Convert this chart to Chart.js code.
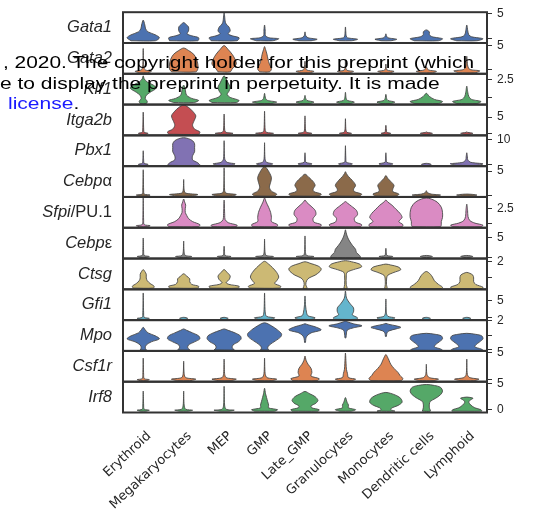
<!DOCTYPE html>
<html lang="en">
<head>
<meta charset="UTF-8">
<title>Stacked violin</title>
<script src="https://cdn.jsdelivr.net/npm/chart.js@4"></script>
<style>
  body { margin: 0; background: #fff; }
  #wrap { position: relative; width: 533px; height: 510px; }
  .note {
    position: absolute;
    font-family: "Liberation Sans", Arial, sans-serif;
    font-size: 21px;
    line-height: 21px;
    white-space: nowrap;
    transform: scaleY(0.76);
    transform-origin: 0 0;
    color: #000;
  }
</style>
</head>
<body>
<div id="wrap">
  <canvas id="chartCanvas" width="533" height="510"></canvas>
  <div class="note" style="left:3px;top:54px;font-size:20.9px">, 2020. The copyright holder for this preprint (which</div>
  <div class="note" style="left:0;top:75px">e to display the preprint in perpetuity. It is made</div>
  <div class="note" style="left:8px;top:95px"><span style="color:#1a1aff">license</span>.</div>
</div>

<script>
const cellTypes = ["Erythroid", "Megakaryocytes", "MEP", "GMP", "Late_GMP", "Granulocytes", "Monocytes", "Dendritic cells", "Lymphoid"];
const genes = ["Gata1", "Gata2", "Klf1", "Itga2b", "Pbx1", "Cebpα", "Sfpi/PU.1", "Cebpε", "Ctsg", "Gfi1", "Mpo", "Csf1r", "Irf8"];
const geneColors = ["#4c72b0", "#dd8452", "#55a868", "#c44e52", "#8172b3", "#8b6a4a", "#da8bc3", "#858585", "#ccb974", "#64b5cd", "#4c72b0", "#dd8452", "#55a868"];

// per-row axis range and right-hand ticks
const axisMin = [-1.0, -0.86, -1.09, -0.48, -0.64, -0.4, -0.7, -0.39, 0.2, -0.78, -0.12, -0.32, -0.53];
const axisMax = [5.26, 5.48, 3.4, 8.76, 11.6, 6.01, 4.55, 7.42, 2.2, 8.5, 2.05, 5.32, 5.3];
const tickValues = [[0, 5], [0, 5], [0, 2.5], [0, 5], [0, 10], [0, 5], [0, 2.5], [0, 5], [1, 2], [0, 5], [0, 1, 2], [0, 5], [0, 5]];
const tickLabels = [["", "5"], ["", "5"], ["", "2.5"], ["", "5"], ["", "10"], ["", "5"], ["", "2.5"], ["", "5"], ["", "2"], ["", "5"], ["", "", "2"], ["", "5"], ["0", "5"]];

// violin outlines: per cell type, [expression, half width] from bottom to top
const gata1 = [
  [[-0.54, 0.3], [0.06, 0.4], [0.66, 0.3], [1.26, 0.12], [1.86, 0.06], [2.66, 0.04], [3.66, 0]],
  [[-0.54, 0.35], [0.06, 0.37], [0.46, 0.2], [0.86, 0.085], [1.46, 0.12], [2.26, 0.12], [2.86, 0.05], [3.16, 0]],
  [[-0.54, 0.32], [0.06, 0.37], [0.46, 0.2], [0.86, 0.1], [1.46, 0.15], [2.26, 0.12], [2.86, 0.05], [3.46, 0.025], [4.26, 0.015], [5.16, 0]],
  [[-0.54, 0.2], [-0.14, 0.35], [0.06, 0.12], [0.46, 0.025], [1.66, 0.015], [2.66, 0]],
  [[-0.54, 0.15], [-0.24, 0.3], [0.06, 0.075], [0.46, 0.02], [1.26, 0]],
  [[-0.54, 0.15], [-0.24, 0.3], [0.06, 0.05], [0.46, 0.018], [2.26, 0]],
  [[-0.54, 0.12], [-0.24, 0.27], [0.06, 0.05], [0.46, 0.015], [0.86, 0]],
  [[-0.54, 0.3], [-0.14, 0.4], [0.26, 0.15], [0.66, 0.075], [1.26, 0.075], [1.66, 0]],
  [[-0.54, 0.25], [-0.14, 0.4], [0.26, 0.12], [0.66, 0.05], [1.46, 0.025], [2.66, 0]]
];
const gata2 = [
  [[-0.66, 0.1], [-0.36, 0.2], [-0.06, 0.05], [0.54, 0.015], [4.34, 0]],
  [[-0.46, 0.3], [0.14, 0.35], [1.14, 0.35], [2.14, 0.32], [3.14, 0.25], [3.94, 0.12], [4.44, 0]],
  [[-0.46, 0.15], [0.14, 0.2], [1.14, 0.3], [2.14, 0.27], [3.14, 0.2], [4.14, 0.1], [4.94, 0]],
  [[-0.46, 0.12], [0.14, 0.17], [1.14, 0.12], [2.14, 0.085], [3.14, 0.06], [4.14, 0.025], [4.74, 0]],
  [[-0.66, 0.12], [-0.36, 0.22], [-0.06, 0.04], [0.74, 0.012], [1.74, 0]],
  [[-0.66, 0.1], [-0.36, 0.2], [-0.06, 0.025], [1.94, 0]],
  [[-0.66, 0.1], [-0.36, 0.2], [-0.06, 0.025], [1.14, 0]],
  [[-0.66, 0.15], [-0.36, 0.25], [-0.06, 0.05], [0.54, 0]],
  [[-0.66, 0.2], [-0.26, 0.32], [0.04, 0.075], [0.74, 0.025], [2.74, 0]]
];
const klf1 = [
  [[-0.94, 0.075], [-0.64, 0.1], [-0.19, 0.05], [0.25, 0.075], [0.7, 0.17], [1.3, 0.32], [1.75, 0.25], [2.2, 0.1], [2.65, 0.025], [3.1, 0]],
  [[-0.79, 0.25], [-0.49, 0.37], [-0.19, 0.2], [0.25, 0.075], [0.7, 0.05], [1.15, 0.04], [1.75, 0]],
  [[-0.79, 0.3], [-0.49, 0.37], [-0.04, 0.15], [0.4, 0.075], [0.85, 0.12], [1.45, 0.15], [2.05, 0.1], [2.65, 0.05], [3.1, 0]],
  [[-0.94, 0.15], [-0.72, 0.3], [-0.49, 0.075], [-0.19, 0.025], [0.55, 0]],
  [[-0.94, 0.12], [-0.72, 0.22], [-0.49, 0.05], [-0.19, 0.018], [0.25, 0]],
  [[-0.94, 0.12], [-0.72, 0.22], [-0.49, 0.05], [-0.19, 0.018], [0.7, 0]],
  [[-0.94, 0.12], [-0.72, 0.22], [-0.49, 0.05], [-0.19, 0.018], [0.4, 0]],
  [[-0.94, 0.3], [-0.64, 0.4], [-0.34, 0.2], [0.1, 0.075], [0.55, 0]],
  [[-0.94, 0.25], [-0.64, 0.35], [-0.34, 0.12], [0.1, 0.05], [0.7, 0.025], [1.6, 0]]
];
const itga2b = [
  [[-0.14, 0.075], [0.14, 0.12], [0.42, 0.025], [1.13, 0.012], [6.5, 0]],
  [[-0.14, 0.37], [0.56, 0.4], [1.41, 0.27], [2.54, 0.22], [3.67, 0.25], [5.37, 0.3], [6.78, 0.22], [7.91, 0.12], [8.62, 0]],
  [[-0.14, 0.12], [0.14, 0.22], [0.42, 0.05], [1.13, 0.015], [5.93, 0]],
  [[-0.14, 0.12], [0.14, 0.22], [0.42, 0.05], [1.13, 0.015], [6.78, 0]],
  [[-0.14, 0.1], [0.14, 0.17], [0.42, 0.04], [1.13, 0.012], [5.37, 0]],
  [[-0.14, 0.075], [0.14, 0.15], [0.42, 0.04], [1.13, 0.012], [4.52, 0]],
  [[-0.14, 0.075], [0.14, 0.12], [0.42, 0.025], [1.13, 0.012], [2.54, 0]],
  [[-0.14, 0.075], [0.14, 0.15], [0.42, 0.02], [0.56, 0]],
  [[-0.14, 0.075], [0.14, 0.15], [0.42, 0.02], [0.56, 0]]
];
const pbx1 = [
  [[-0.32, 0.075], [0.08, 0.12], [0.48, 0.025], [1.88, 0.01], [5.48, 0]],
  [[-0.32, 0.4], [0.68, 0.35], [1.88, 0.22], [3.48, 0.22], [5.08, 0.27], [6.68, 0.27], [8.28, 0.27], [9.48, 0.22], [10.28, 0.12], [10.68, 0]],
  [[-0.32, 0.17], [0.28, 0.27], [0.88, 0.075], [2.28, 0.015], [9.48, 0]],
  [[-0.32, 0.12], [0.28, 0.2], [0.88, 0.05], [2.28, 0.012], [8.68, 0]],
  [[-0.32, 0.1], [0.28, 0.17], [0.88, 0.025], [2.28, 0.01], [4.68, 0]],
  [[-0.32, 0.1], [0.28, 0.17], [0.88, 0.025], [2.28, 0.01], [7.48, 0]],
  [[-0.32, 0.1], [0.28, 0.17], [0.88, 0.025], [2.28, 0.01], [4.68, 0]],
  [[-0.32, 0.075], [0.08, 0.12], [0.48, 0]],
  [[-0.32, 0.25], [0.28, 0.4], [0.88, 0.1], [1.88, 0.025], [3.08, 0.015], [4.68, 0]]
];
const cebpa = [
  [[-0.2, 0.1], [0, 0.17], [0.2, 0.025], [1.01, 0.01], [5.26, 0]],
  [[-0.2, 0.2], [0.1, 0.35], [0.4, 0.05], [1.01, 0.012], [3.24, 0]],
  [[-0.2, 0.2], [0.1, 0.3], [0.4, 0.05], [1.01, 0.012], [5.67, 0]],
  [[-0.2, 0.25], [0.2, 0.3], [0.81, 0.17], [1.62, 0.12], [2.63, 0.15], [3.64, 0.17], [4.66, 0.12], [5.47, 0.06], [5.97, 0]],
  [[-0.2, 0.35], [0.2, 0.4], [0.71, 0.22], [1.21, 0.2], [2.02, 0.25], [2.83, 0.2], [3.64, 0.1], [4.35, 0]],
  [[-0.2, 0.35], [0.2, 0.4], [0.71, 0.22], [1.21, 0.2], [2.02, 0.25], [3.04, 0.17], [3.85, 0.075], [4.45, 0.025], [4.86, 0]],
  [[-0.2, 0.27], [0.2, 0.32], [0.71, 0.17], [1.21, 0.17], [2.02, 0.2], [2.83, 0.12], [3.44, 0.05], [4.05, 0]],
  [[-0.2, 0.25], [0, 0.35], [0.2, 0.12], [0.51, 0.025], [0.91, 0]],
  [[-0.2, 0.15], [0, 0.25], [0.2, 0]]
];
const sfpi = [
  [[-0.52, 0.1], [-0.35, 0.17], [-0.17, 0.025], [0.52, 0.01], [4.37, 0]],
  [[-0.52, 0.37], [-0.17, 0.4], [0.35, 0.22], [0.87, 0.12], [1.4, 0.075], [1.92, 0.04], [2.62, 0.04], [3.15, 0.05], [3.67, 0.025], [4.2, 0]],
  [[-0.52, 0.3], [-0.26, 0.32], [0.17, 0.1], [0.7, 0.025], [1.4, 0.015], [4.02, 0]],
  [[-0.52, 0.3], [-0.17, 0.32], [0.35, 0.17], [1.05, 0.17], [1.92, 0.15], [2.8, 0.1], [3.67, 0.04], [4.37, 0]],
  [[-0.52, 0.37], [-0.17, 0.4], [0.26, 0.22], [0.87, 0.2], [1.57, 0.27], [2.27, 0.25], [2.97, 0.15], [3.58, 0.05], [4.02, 0]],
  [[-0.52, 0.37], [-0.17, 0.4], [0.26, 0.25], [0.87, 0.22], [1.57, 0.3], [2.27, 0.27], [2.97, 0.15], [3.5, 0.05], [3.76, 0]],
  [[-0.52, 0.4], [-0.17, 0.42], [0.35, 0.32], [1.05, 0.4], [1.75, 0.35], [2.45, 0.25], [3.15, 0.15], [3.67, 0.05], [4.02, 0]],
  [[-0.52, 0.35], [-0.17, 0.37], [0.35, 0.37], [1.05, 0.4], [1.92, 0.4], [2.8, 0.37], [3.67, 0.27], [4.2, 0.12], [4.37, 0]],
  [[-0.52, 0.35], [-0.26, 0.4], [0.09, 0.2], [0.52, 0.075], [1.22, 0.03], [2.27, 0.02], [3.32, 0]]
];
const cebpe = [
  [[-0.13, 0.075], [0.13, 0.15], [0.39, 0.025], [1.43, 0.01], [4.82, 0]],
  [[-0.13, 0.1], [0.13, 0.2], [0.39, 0.04], [1.43, 0.01], [4.04, 0]],
  [[-0.13, 0.1], [0.13, 0.17], [0.39, 0.025], [1.43, 0.01], [2.73, 0]],
  [[-0.13, 0.12], [0.13, 0.22], [0.39, 0.04], [1.43, 0.01], [4.56, 0]],
  [[-0.13, 0.12], [0.13, 0.22], [0.39, 0.04], [1.43, 0.01], [5.34, 0]],
  [[-0.13, 0.37], [0.39, 0.35], [1.17, 0.27], [1.95, 0.25], [2.99, 0.17], [4.04, 0.1], [5.08, 0.05], [6.12, 0.018], [6.9, 0]],
  [[-0.13, 0.1], [0.13, 0.17], [0.39, 0.025], [1.17, 0.01], [2.21, 0]],
  [[-0.13, 0.075], [0.13, 0.15], [0.39, 0]],
  [[-0.13, 0.075], [0.13, 0.15], [0.39, 0]]
];
const ctsg = [
  [[0.28, 0.25], [0.4, 0.27], [0.58, 0.17], [0.76, 0.1], [0.94, 0.075], [1.18, 0.075], [1.36, 0.04], [1.48, 0]],
  [[0.28, 0.35], [0.4, 0.37], [0.52, 0.2], [0.7, 0.15], [0.88, 0.15], [1.06, 0.075], [1.21, 0]],
  [[0.28, 0.35], [0.4, 0.37], [0.52, 0.12], [0.64, 0.05], [0.82, 0.12], [1.06, 0.15], [1.3, 0.075], [1.48, 0]],
  [[0.28, 0.37], [0.4, 0.4], [0.58, 0.25], [0.76, 0.3], [1.0, 0.35], [1.3, 0.3], [1.6, 0.2], [1.84, 0.1], [2.02, 0]],
  [[0.25, 0.05], [0.52, 0.02], [0.76, 0.04], [0.94, 0.1], [1.12, 0.25], [1.36, 0.37], [1.54, 0.4], [1.72, 0.32], [1.87, 0.15], [1.99, 0]],
  [[0.25, 0.04], [0.52, 0.02], [1.0, 0.02], [1.3, 0.04], [1.48, 0.2], [1.66, 0.4], [1.84, 0.35], [1.96, 0.2], [2.06, 0]],
  [[0.25, 0.03], [0.52, 0.015], [0.94, 0.02], [1.12, 0.05], [1.3, 0.2], [1.48, 0.37], [1.66, 0.3], [1.78, 0.12], [1.84, 0]],
  [[0.25, 0.37], [0.34, 0.4], [0.52, 0.3], [0.76, 0.2], [1.0, 0.15], [1.18, 0.1], [1.3, 0.05], [1.36, 0]],
  [[0.25, 0.37], [0.34, 0.4], [0.52, 0.22], [0.7, 0.17], [0.94, 0.17], [1.12, 0.15], [1.24, 0.075], [1.3, 0]]
];
const gfi1 = [
  [[-0.54, 0.075], [-0.24, 0.15], [0.06, 0.025], [1.41, 0.01], [7.4, 0]],
  [[-0.54, 0.05], [-0.24, 0.1], [0.06, 0]],
  [[-0.54, 0.05], [-0.24, 0.1], [0.06, 0]],
  [[-0.54, 0.15], [-0.09, 0.25], [0.36, 0.05], [1.71, 0.015], [7.4, 0]],
  [[-0.54, 0.17], [-0.09, 0.25], [0.51, 0.075], [1.41, 0.04], [3.5, 0.015], [6.5, 0]],
  [[-0.54, 0.27], [-0.09, 0.3], [0.81, 0.17], [1.71, 0.2], [2.9, 0.2], [4.1, 0.12], [5.3, 0.05], [6.2, 0.02], [8.0, 0]],
  [[-0.54, 0.15], [-0.09, 0.22], [0.36, 0.05], [1.41, 0.012], [5.6, 0]],
  [[-0.54, 0.05], [-0.24, 0.1], [0.06, 0]],
  [[-0.54, 0.05], [-0.24, 0.1], [0.06, 0]]
];
const mpo = [
  [[-0.05, 0.075], [0.09, 0.05], [0.3, 0.075], [0.52, 0.2], [0.73, 0.4], [0.94, 0.3], [1.15, 0.12], [1.36, 0.05], [1.54, 0]],
  [[-0.05, 0.15], [0.09, 0.1], [0.3, 0.12], [0.52, 0.27], [0.73, 0.4], [0.94, 0.37], [1.15, 0.22], [1.33, 0.075], [1.43, 0]],
  [[-0.05, 0.25], [0.09, 0.2], [0.3, 0.22], [0.52, 0.35], [0.73, 0.42], [0.94, 0.4], [1.15, 0.27], [1.33, 0.1], [1.43, 0]],
  [[-0.05, 0.1], [0.09, 0.075], [0.3, 0.12], [0.59, 0.27], [0.87, 0.4], [1.08, 0.42], [1.36, 0.32], [1.65, 0.17], [1.86, 0]],
  [[0.48, 0.012], [0.73, 0.02], [0.94, 0.05], [1.15, 0.15], [1.36, 0.4], [1.58, 0.25], [1.72, 0.075], [1.79, 0]],
  [[0.8, 0.012], [1.15, 0.025], [1.36, 0.05], [1.51, 0.2], [1.65, 0.41], [1.79, 0.2], [1.93, 0.05], [2.0, 0]],
  [[0.9, 0.012], [1.15, 0.025], [1.29, 0.075], [1.43, 0.25], [1.54, 0.37], [1.65, 0.25], [1.75, 0.075], [1.82, 0]],
  [[-0.08, 0.4], [0.02, 0.35], [0.16, 0.2], [0.3, 0.22], [0.52, 0.32], [0.73, 0.4], [0.94, 0.37], [1.05, 0.22], [1.12, 0]],
  [[-0.08, 0.4], [0.02, 0.35], [0.16, 0.2], [0.3, 0.22], [0.52, 0.32], [0.73, 0.4], [0.94, 0.37], [1.05, 0.22], [1.12, 0]]
];
const csf1r = [
  [[-0.13, 0.075], [0.06, 0.15], [0.24, 0.025], [1.0, 0.01], [4.0, 0]],
  [[-0.13, 0.15], [0.15, 0.3], [0.43, 0.05], [1.18, 0.012], [3.44, 0]],
  [[-0.13, 0.15], [0.15, 0.3], [0.43, 0.05], [1.18, 0.012], [3.82, 0]],
  [[-0.13, 0.17], [0.15, 0.3], [0.43, 0.06], [1.18, 0.015], [4.0, 0]],
  [[-0.13, 0.3], [0.24, 0.35], [0.71, 0.15], [1.37, 0.17], [2.12, 0.15], [2.88, 0.075], [3.63, 0.025], [4.38, 0]],
  [[-0.13, 0.15], [0.15, 0.25], [0.43, 0.075], [1.18, 0.05], [1.94, 0.025], [3.06, 0.015], [4.94, 0]],
  [[-0.13, 0.37], [0.24, 0.42], [0.81, 0.35], [1.37, 0.3], [2.12, 0.2], [2.88, 0.12], [3.63, 0.075], [4.19, 0.04], [4.66, 0]],
  [[-0.13, 0.17], [0.15, 0.3], [0.43, 0.075], [1.0, 0.015], [2.88, 0]],
  [[-0.13, 0.17], [0.15, 0.3], [0.43, 0.075], [1.0, 0.015], [3.82, 0]]
];
const irf8 = [
  [[-0.27, 0.075], [-0.09, 0.15], [0.09, 0.025], [0.88, 0.01], [3.53, 0]],
  [[-0.27, 0.12], [-0.09, 0.22], [0.09, 0.05], [0.88, 0.012], [3.53, 0]],
  [[-0.27, 0.12], [-0.09, 0.25], [0.09, 0.05], [0.88, 0.012], [4.42, 0]],
  [[-0.27, 0.25], [0, 0.32], [0.35, 0.1], [0.88, 0.1], [1.59, 0.075], [2.3, 0.05], [3.0, 0.025], [4.06, 0]],
  [[-0.27, 0.32], [0, 0.35], [0.35, 0.17], [0.71, 0.15], [1.24, 0.27], [1.77, 0.32], [2.47, 0.25], [3.0, 0.12], [3.45, 0]],
  [[-0.27, 0.15], [0, 0.25], [0.35, 0.075], [0.88, 0.075], [1.41, 0.04], [2.3, 0]],
  [[-0.27, 0.22], [0, 0.12], [0.35, 0.15], [0.8, 0.3], [1.41, 0.4], [2.12, 0.37], [2.65, 0.27], [3.09, 0.12], [3.27, 0]],
  [[-0.27, 0.1], [0.35, 0.075], [1.06, 0.075], [1.59, 0.1], [2.12, 0.22], [2.83, 0.35], [3.53, 0.4], [4.24, 0.35], [4.59, 0.2], [4.77, 0]],
  [[-0.27, 0.37], [0, 0.35], [0.35, 0.2], [0.88, 0.1], [1.41, 0.05], [1.77, 0.075], [2.12, 0.15], [2.21, 0.15], [2.39, 0]]
];
const violinProfiles = [gata1, gata2, klf1, itga2b, pbx1, cebpa, sfpi, cebpe, ctsg, gfi1, mpo, csf1r, irf8];

// one closed outline per violin, gaps (null) split the row into separate shapes
function violinPoints(profiles) {
  const pts = [];
  profiles.forEach((prof, col) => {
    const n = prof.length;
    for (let i = 0; i < n; i++) pts.push({x: col - prof[i][1], y: prof[i][0]});
    for (let i = n - 2; i >= 0; i--) pts.push({x: col + prof[i][1], y: prof[i][0]});
    pts.push({x: col - prof[0][1], y: prof[0][0]});
    pts.push({x: null, y: null});
  });
  return pts;
}

const datasets = genes.map((g, r) => ({
  label: g,
  data: violinPoints(violinProfiles[r]),
  yAxisID: 'y' + r,
  xAxisID: 'x',
  fill: 'shape',
  backgroundColor: geneColors[r],
  borderColor: '#4a4a4a',
  borderWidth: 0.9,
  pointRadius: 0,
  tension: 0.3,
  spanGaps: false
}));

const scales = {
  x: {
    type: 'linear',
    min: -0.5,
    max: 8.5,
    afterBuildTicks: s => { s.ticks = cellTypes.map((c, i) => ({value: i})); },
    afterFit: s => { s.height = 97.5; },
    grid: { display: false },
    border: { display: false },
    ticks: {
      autoSkip: false,
      minRotation: 43,
      maxRotation: 43,
      padding: 8,
      labelOffset: 6,
      color: '#262626',
      font: { family: 'DejaVu Sans', size: 13 },
      callback: v => cellTypes[v]
    }
  }
};
genes.forEach((g, r) => {
  scales['y' + r] = {
    type: 'linear',
    position: 'right',
    stack: 'rows',
    stackWeight: 1,
    min: axisMin[r],
    max: axisMax[r],
    afterBuildTicks: s => { s.ticks = tickValues[r].map(v => ({value: v})); },
    afterFit: s => { s.width = 46; },
    grid: { drawOnChartArea: false, drawTicks: true, tickLength: 5, color: '#333', lineWidth: 1 },
    border: { display: false },
    ticks: {
      autoSkip: false,
      padding: 5,
      color: '#262626',
      font: { family: 'Liberation Sans', size: 12 },
      callback: (v, i) => tickLabels[r][i]
    }
  };
});

// box around each row
const rowFrames = {
  id: 'rowFrames',
  afterDatasetsDraw(chart) {
    const {ctx, chartArea} = chart;
    ctx.save();
    ctx.strokeStyle = '#333';
    ctx.lineWidth = 2;
    genes.forEach((g, r) => {
      const s = chart.scales['y' + r];
      ctx.strokeRect(chartArea.left, s.top, chartArea.right - chartArea.left, s.bottom - s.top);
    });
    ctx.restore();
  }
};

// gene names on the left, italic gene symbol + upright suffix
const geneLabels = {
  id: 'geneLabels',
  afterDraw(chart) {
    const {ctx, chartArea} = chart;
    ctx.save();
    ctx.fillStyle = '#262626';
    ctx.textBaseline = 'middle';
    genes.forEach((g, r) => {
      const s = chart.scales['y' + r];
      const m = g.match(/^([A-Za-z0-9]+)(.*)$/);
      const parts = [[m[1], 'italic 16.5px "Liberation Sans"'], [m[2], '16.5px "Liberation Sans"']];
      let total = 0;
      parts.forEach(p => { ctx.font = p[1]; total += ctx.measureText(p[0]).width; });
      let x = chartArea.left - 11 - total;
      const y = (s.top + s.bottom) / 2;
      parts.forEach(p => { ctx.font = p[1]; ctx.fillText(p[0], x, y); x += ctx.measureText(p[0]).width; });
    });
    ctx.restore();
  }
};

Chart.defaults.font.family = 'Liberation Sans';
new Chart(document.getElementById('chartCanvas').getContext('2d'), {
  type: 'line',
  data: { datasets },
  options: {
    responsive: false,
    animation: false,
    devicePixelRatio: 1,
    layout: { padding: { left: 123, right: 0, top: 7, bottom: 0 } },
    plugins: { legend: { display: false }, tooltip: { enabled: false } },
    scales
  },
  plugins: [rowFrames, geneLabels]
});
</script>
</body>
</html>
